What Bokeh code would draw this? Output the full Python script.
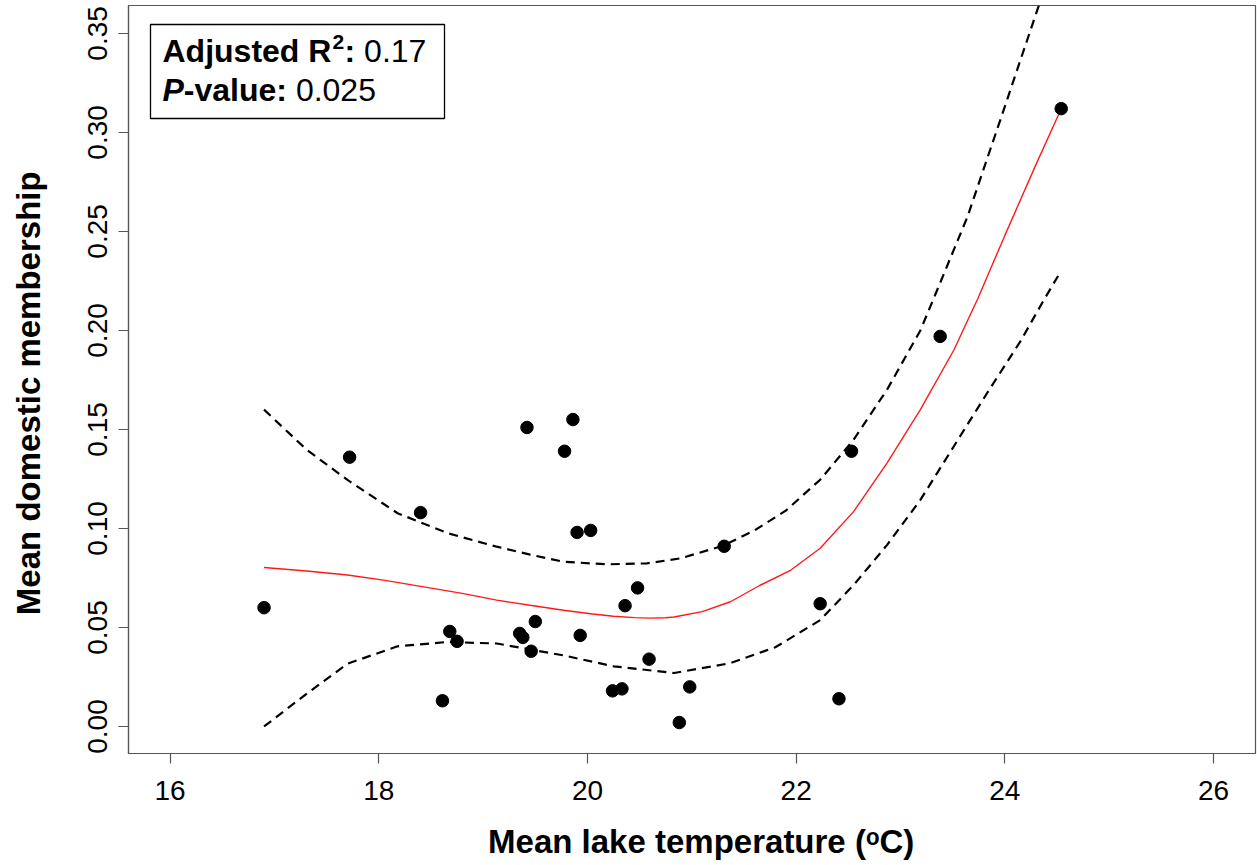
import math
from bokeh.plotting import figure
from bokeh.models import Range1d, FixedTicker, Label, BoxAnnotation
from bokeh.embed import file_html
from bokeh.resources import INLINE

# ---------------- data ----------------
temperature = [16.90, 17.72, 18.40, 18.61, 18.68, 18.75, 19.35, 19.38, 19.42, 19.46,
               19.50, 19.78, 19.86, 19.90, 19.93, 20.03, 20.24, 20.33, 20.36, 20.48,
               20.59, 20.88, 20.98, 21.31, 22.23, 22.41, 22.53, 23.38, 24.54]
membership = [0.060, 0.136, 0.108, 0.013, 0.048, 0.043, 0.047, 0.045, 0.151, 0.038,
              0.053, 0.139, 0.155, 0.098, 0.046, 0.099, 0.018, 0.019, 0.061, 0.070,
              0.034, 0.002, 0.020, 0.091, 0.062, 0.014, 0.139, 0.197, 0.312]

fit_x = [16.90, 17.31, 17.70, 18.06, 18.43, 18.80, 19.13, 19.45, 19.77, 20.05,
         20.25, 20.45, 20.60, 20.75, 20.83, 21.10, 21.37, 21.65, 21.95, 22.23,
         22.55, 22.87, 23.19, 23.51, 23.74, 24.00, 24.30, 24.54]
fit_y = [0.0803, 0.0785, 0.0765, 0.0738, 0.0705, 0.0672, 0.0638, 0.0612, 0.0587, 0.0568,
         0.0557, 0.0550, 0.0547, 0.0549, 0.0553, 0.0580, 0.0630, 0.0712, 0.0790, 0.0900,
         0.1085, 0.1330, 0.1600, 0.1900, 0.2160, 0.2480, 0.2840, 0.3120]

upper_x = [16.90, 17.31, 17.70, 18.18, 18.66, 19.13, 19.45, 19.77, 20.19, 20.57,
           20.89, 21.30, 21.60, 21.90, 22.23, 22.55, 22.87, 23.19, 23.33, 23.64,
           23.98, 24.32, 24.54]
upper_y = [0.160, 0.1397, 0.1245, 0.1077, 0.0976, 0.0908, 0.0868, 0.0832, 0.0819, 0.0824,
           0.0849, 0.0913, 0.0990, 0.1090, 0.1246, 0.1448, 0.1700, 0.2000, 0.2177, 0.2572,
           0.3100, 0.3633, 0.3990]

lower_x = [16.90, 17.31, 17.70, 18.18, 18.66, 19.13, 19.77, 20.25, 20.83, 21.37,
           21.80, 22.23, 22.55, 22.87, 23.19, 23.51, 23.83, 24.15, 24.38, 24.51]
lower_y = [0.000, 0.0166, 0.0317, 0.0405, 0.0427, 0.0419, 0.0359, 0.0304, 0.0270, 0.0320,
           0.0400, 0.0537, 0.0714, 0.0916, 0.1144, 0.1414, 0.1684, 0.1946, 0.2160, 0.2275]

x_ticks = [16, 18, 20, 22, 24, 26]
y_ticks = [0.00, 0.05, 0.10, 0.15, 0.20, 0.25, 0.30, 0.35]
y_tick_labels = ["0.00", "0.05", "0.10", "0.15", "0.20", "0.25", "0.30", "0.35"]

x_title = "Mean lake temperature (\u1d52C)"
y_title = "Mean domestic membership"
stat_line1 = ["Adjusted R", "2", ":", "0.17"]
stat_line2 = ["P", "-value:", "0.025"]

# ---------------- layout (page pixels) ----------------
W, H = 1257, 865
BL, BR, BT, BB = 128, 2, 5, 112
FL, FR, FT, FB = BL, W - BR, BT, H - BB
X0, X1 = 15.601, 26.402
Y0, Y1 = -0.01364, 0.3641

def dx(px):
    return X0 + (px - FL) * (X1 - X0) / (FR - FL)

def dy(py):
    return Y0 + (FB - py) * (Y1 - Y0) / (FB - FT)

p = figure(width=W, height=H, output_backend="svg", toolbar_location=None,
           x_range=Range1d(X0, X1), y_range=Range1d(Y0, Y1),
           min_border_left=BL, min_border_right=BR, min_border_top=BT,
           min_border_bottom=BB, background_fill_color="white",
           border_fill_color="white")
p.xgrid.visible = False
p.ygrid.visible = False
p.outline_line_color = "#555555"
p.outline_line_width = 1.2

for ax in (p.xaxis, p.yaxis):
    ax.axis_line_color = "#555555"
    ax.axis_line_width = 1.2
    ax.major_tick_line_color = "#555555"
    ax.major_tick_line_width = 1.2
    ax.major_tick_out = 10
    ax.major_tick_in = 0
    ax.minor_tick_line_color = None
    ax.major_label_text_font = "Liberation Sans"
    ax.major_label_text_font_size = "28px"
    ax.major_label_text_color = "black"
    ax.axis_label_text_font = "Liberation Sans"
    ax.axis_label_text_font_size = "33px"
    ax.axis_label_text_font_style = "bold"
    ax.axis_label_text_color = "black"

p.xaxis.ticker = FixedTicker(ticks=x_ticks)
p.xaxis.major_label_standoff = 17
p.xaxis.axis_label = "\u00a0\u00a0" + x_title
p.xaxis.axis_label_standoff = 20

p.yaxis.ticker = FixedTicker(ticks=y_ticks)
p.yaxis.major_label_overrides = {t: s for t, s in zip(y_ticks, y_tick_labels)}
p.yaxis.major_label_orientation = "vertical"
p.yaxis.major_label_standoff = 11
p.yaxis.axis_label = y_title + "\u00a0\u00a0\u00a0"
p.yaxis.axis_label_standoff = 39

# ---------------- marks ----------------
p.line(upper_x, upper_y, line_color="black", line_width=2.2, line_dash="9 6")
p.line(lower_x, lower_y, line_color="black", line_width=2.2, line_dash="9 6")
p.line(fit_x, fit_y, line_color="#ff1a1a", line_width=1.4)
p.scatter(temperature, membership, size=12.5, fill_color="black", line_color="black")

# ---------------- stats box ----------------
BOLD = {"A": 722, "d": 611, "j": 278, "u": 611, "s": 556, "t": 333, "e": 556, " ": 278,
        "R": 722, ":": 333, "2": 556, "-": 333, "v": 556, "a": 556, "l": 278, "P": 667}

def tw(s, size):
    return sum(BOLD[c] for c in s) * size / 1000.0

FONT = "Liberation Sans"

def lab(text, px, py, size, style="normal"):
    p.add_layout(Label(x=dx(px), y=dy(py), text=text, text_font=FONT,
                       text_font_size=f"{size}px", text_font_style=style,
                       text_color="black", text_align="left",
                       text_baseline="alphabetic"))

p.add_layout(BoxAnnotation(left=dx(150), right=dx(444), top=dy(24), bottom=dy(118),
                           fill_color="white", fill_alpha=1.0,
                           line_color="black", line_alpha=1.0, line_width=1.3))
S = 32
SPACE = 278 * S / 1000.0
B1, B2 = 50, 89.5
x = 162
lab(stat_line1[0], x, B1, S, "bold"); x += tw(stat_line1[0], S)
lab(stat_line1[1], x + 1, B1 - 9, 21, "bold"); x += tw(stat_line1[1], 21) + 1.5
lab(stat_line1[2], x, B1, S, "bold"); x += tw(stat_line1[2], S) + SPACE
lab(stat_line1[3], x, B1, S, "normal")
x = 162
lab(stat_line2[0], x, B2, S, "bold italic"); x += tw(stat_line2[0], S)
lab(stat_line2[1], x, B2, S, "bold"); x += tw(stat_line2[1], S) + SPACE
lab(stat_line2[2], x, B2, S, "normal")

open("out.html", "w").write(file_html(p, INLINE))
